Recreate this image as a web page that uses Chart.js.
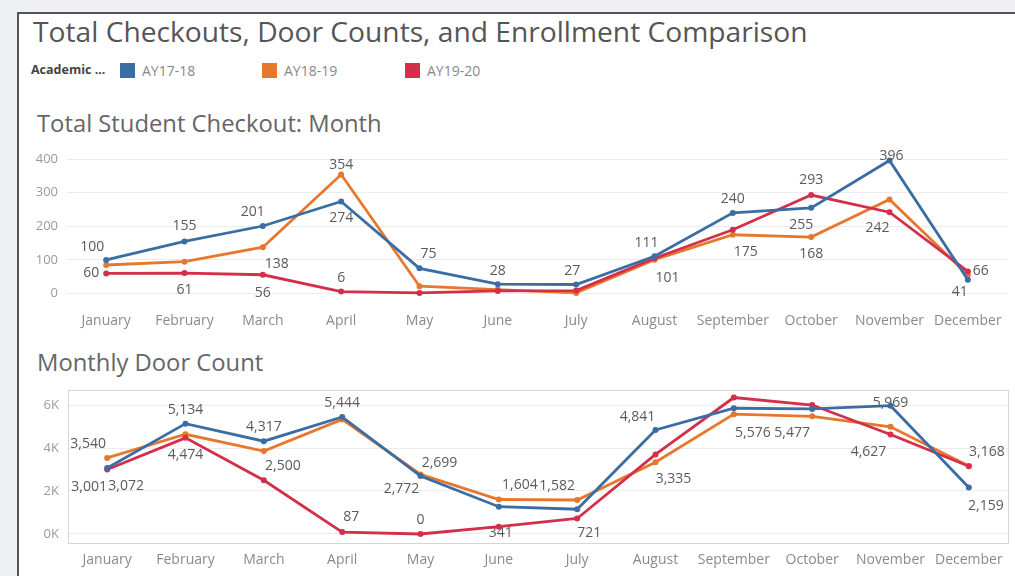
<!DOCTYPE html>
<html>
<head>
<meta charset="utf-8">
<script src="https://cdn.jsdelivr.net/npm/chart.js@4"></script>
<style>
  body { margin: 0; background: #eef0f2; font-family: "Open Sans", sans-serif; overflow: hidden; }
  #panel { position: absolute; left: 17px; top: 12px; width: 1100px; height: 700px; background: #fff; border-left: 2px solid #555; border-top: 2px solid #555; }
  .txt { position: absolute; white-space: nowrap; line-height: 1; color: #555; }
  #title { left: 33px; top: 17px; font-size: 28.2px; }
  #legend { left: 31px; top: 63px; height: 16px; }
  #legend .cap { position: absolute; left: 0; top: 1px; font-size: 12.5px; font-weight: bold; color: #444; }
  #legend .sw { position: absolute; top: 0; width: 15px; height: 15px; }
  #legend .lb { position: absolute; top: 1px; font-size: 14px; color: #888; }
  #sub1 { left: 37px; top: 112px; font-size: 23.8px; color: #666; }
  #sub2 { left: 37px; top: 351px; font-size: 23.8px; color: #666; }
  .cv { position: absolute; left: 17px; width: 998px; }
  #c1wrap { top: 140px; height: 200px; }
  #c2wrap { top: 380px; height: 196px; }
</style>
</head>
<body>
<div id="panel"></div>
<div class="txt" id="title">Total Checkouts, Door Counts, and Enrollment Comparison</div>
<div class="txt" id="legend"></div>
<div class="txt" id="sub1">Total Student Checkout: Month</div>
<div class="txt" id="sub2">Monthly Door Count</div>
<div class="cv" id="c1wrap"><canvas id="c1"></canvas></div>
<div class="cv" id="c2wrap"><canvas id="c2"></canvas></div>
<script>
const months = ['January', 'February', 'March', 'April', 'May', 'June', 'July', 'August', 'September', 'October', 'November', 'December']
const years = ['AY17-18', 'AY18-19', 'AY19-20']
const colors = ['#3a6da4', '#e8772e', '#d32f4a']

// Total Student Checkout
const checkout1718 = [100, 155, 201, 274, 75, 28, 27, 111, 240, 255, 396, 41]
const checkout1819 = [85, 95, 138, 354, 22, 12, 2, 101, 175, 168, 280, 55]
const checkout1920 = [60, 61, 56, 6, 2, 8, 9, 105, 190, 293, 242, 66]
const checkoutTicks = [0, 100, 200, 300, 400]

// Monthly Door Count
const door1718 = [3072, 5134, 4317, 5444, 2699, 1270, 1150, 4841, 5850, 5820, 5969, 2159]
const door1819 = [3540, 4640, 3860, 5330, 2772, 1604, 1582, 3335, 5576, 5477, 4990, 3168]
const door1920 = [3001, 4474, 2500, 87, 0, 341, 721, 3700, 6350, 6000, 4627, 3150]
const doorTicks = [0, 2000, 4000, 6000]
const doorTickLabels = ['0K', '2K', '4K', '6K']

// which points carry a label, and where it sits relative to the point
const checkoutLabelSpots = [
    { 0: [-14, -13], 1: [0, -15], 2: [-10, -14], 3: [0, 17], 4: [9, -14], 5: [0, -13], 6: [-4, -13], 7: [-8, -13], 8: [0, -14], 9: [-10, 17], 10: [2, -4], 11: [-8, 12] },
    { 2: [14, 17], 3: [0, -10], 7: [13, 18], 8: [13, 17], 9: [0, 17] },
    { 0: [-15, 0], 1: [0, 17], 2: [0, 18], 3: [0, -14], 9: [0, -15], 10: [-12, 16], 11: [13, 0] }
]
const doorLabelSpots = [
    { 0: [19, 18], 1: [0, -14], 2: [0, -14], 3: [0, -14], 4: [19, -13], 7: [-18, -13], 10: [0, -3], 11: [17, 18] },
    { 0: [-19, -14], 4: [-19, 15], 5: [21, -14], 6: [-20, -14], 7: [18, 17], 8: [19, 19], 9: [-20, 17], 11: [18, -14] },
    { 0: [-18, 18], 1: [0, 17], 2: [19, -14], 3: [9, -15], 4: [0, -14], 5: [2, 6], 6: [12, 15], 10: [-22, 17] }
]

// legend
const legend = document.getElementById('legend')
legend.innerHTML = '<span class="cap">Academic ...</span>'
const swX = [89, 231, 374]
years.forEach((y, i) => {
    legend.innerHTML += '<span class="sw" style="left:' + swX[i] + 'px;background:' + colors[i] + '"></span>' +
        '<span class="lb" style="left:' + (swX[i] + 22) + 'px">' + y + '</span>'
})

const pointLabels = {
    id: 'pointLabels',
    afterDatasetsDraw(chart, args, opts) {
        const ctx = chart.ctx
        ctx.save()
        ctx.font = '14px "Open Sans"'
        ctx.fillStyle = '#5a5a5a'
        ctx.textAlign = 'center'
        ctx.textBaseline = 'middle'
        opts.spots.forEach((spots, di) => {
            const meta = chart.getDatasetMeta(di)
            const vals = chart.data.datasets[di].data
            Object.keys(spots).forEach(k => {
                const p = meta.data[k]
                const off = spots[k]
                ctx.fillText(vals[k].toLocaleString('en-US'), p.x + off[0], p.y + off[1])
            })
        })
        ctx.restore()
    }
}

const frameBox = {
    id: 'frameBox',
    beforeDatasetsDraw(chart, args, opts) {
        if (!opts.show) return
        const a = chart.chartArea
        const ctx = chart.ctx
        ctx.save()
        ctx.strokeStyle = '#d6d6d6'
        ctx.lineWidth = 1
        ctx.strokeRect(Math.round(a.left) + 0.5, Math.round(a.top) + 0.5, Math.round(a.right - a.left), Math.round(a.bottom - a.top))
        ctx.restore()
    }
}

function makeSets(series) {
    return series.map((s, i) => ({
        label: years[i],
        data: s,
        borderColor: colors[i],
        backgroundColor: colors[i],
        borderWidth: 2.8,
        pointRadius: 3,
        pointBorderWidth: 0,
        tension: 0,
        order: [0, 2, 1][i]
    }))
}

function noPad(s) {
    s.paddingTop = 0
    s.paddingBottom = 0
    s.paddingLeft = 0
    s.paddingRight = 0
}

function makeChart(id, series, tickVals, tickText, min, max, spots, box, pad, yWidth, xHeight, xPad) {
    new Chart(document.getElementById(id), {
        type: 'line',
        data: { labels: months, datasets: makeSets(series) },
        options: {
            responsive: true,
            maintainAspectRatio: false,
            animation: false,
            layout: { padding: pad },
            plugins: {
                legend: { display: false },
                tooltip: { enabled: false },
                pointLabels: { spots: spots },
                frameBox: { show: box }
            },
            scales: {
                x: {
                    offset: true,
                    grid: { display: false, drawTicks: false },
                    border: { display: false },
                    ticks: { color: '#8a8a8a', font: { family: 'Open Sans', size: 14 }, padding: xPad, maxRotation: 0, autoSkip: false },
                    afterFit: s => { s.height = xHeight; noPad(s) }
                },
                y: {
                    min: min,
                    max: max,
                    afterBuildTicks: s => { s.ticks = tickVals.map(v => ({ value: v })) },
                    grid: { color: '#ececec', drawTicks: false, lineWidth: 1 },
                    border: { display: false },
                    ticks: {
                        color: '#9a9a9a',
                        font: { family: 'Open Sans', size: 13 },
                        padding: 9,
                        callback: (v) => tickText ? tickText[tickVals.indexOf(v)] : v
                    },
                    afterFit: s => { s.width = yWidth; noPad(s) }
                }
            }
        },
        plugins: [pointLabels, frameBox]
    })
}

makeChart('c1', [checkout1718, checkout1819, checkout1920], checkoutTicks, null, -25, 430,
    checkoutLabelSpots, false, { top: 9, bottom: 8, left: 0, right: 8 }, 50, 30, 11)
makeChart('c2', [door1718, door1819, door1920], doorTicks, doorTickLabels, -420, 6700,
    doorLabelSpots, true, { top: 10, bottom: 5, left: 0, right: 7 }, 51, 28, 9)
</script>
</body>
</html>
